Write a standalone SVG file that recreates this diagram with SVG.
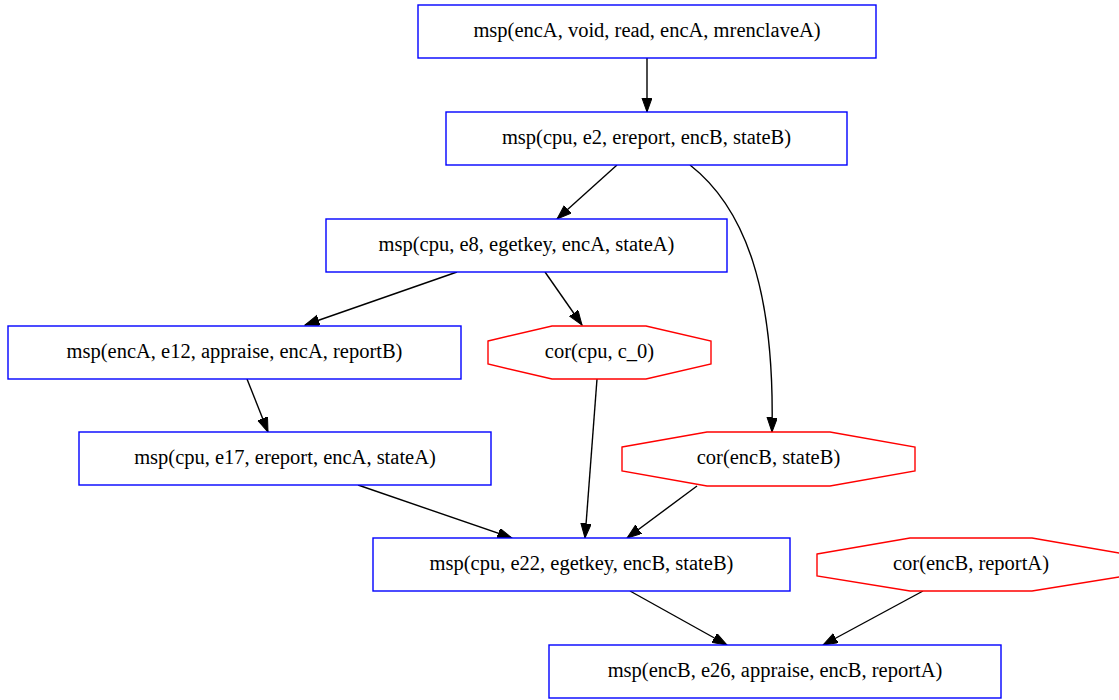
<svg xmlns="http://www.w3.org/2000/svg" width="1119" height="700" viewBox="0 0 1119 700">
  <style>
    .msp { fill: #ffffff; stroke: #0000ff; stroke-width: 1.4; }
    .cor { fill: #ffffff; stroke: #ff0000; stroke-width: 1.4; }
    .lbl { font-family: "Liberation Serif", "Times New Roman", serif; font-size: 20.5px; fill: #000000; text-anchor: middle; }
    .edge { fill: none; stroke: #000000; stroke-width: 1.4; marker-end: url(#arrow); }
  </style>
  <defs>
    <marker id="arrow" markerUnits="userSpaceOnUse" markerWidth="16" markerHeight="12" refX="14.5" refY="5.2" orient="auto">
      <path d="M0,0 L14.5,5.2 L0,10.4 Z" fill="#000000" stroke="#000000" stroke-width="1"/>
    </marker>
  </defs>
  <rect width="1119" height="700" fill="#ffffff"/>

  <g id="connectors">
    <path class="edge" d="M647,58 L647,112"/>
    <path class="edge" d="M617,165 L557,219"/>
    <path class="edge" d="M690,165 C745,208 775,290 772,432"/>
    <path class="edge" d="M457,272 L305,325"/>
    <path class="edge" d="M545,272 L582,325"/>
    <path class="edge" d="M247,379 L268,432"/>
    <path class="edge" d="M358,485 L512,538"/>
    <path class="edge" d="M597,379 L585,538"/>
    <path class="edge" d="M697,486 L627,538"/>
    <path class="edge" d="M630,591 L727,645"/>
    <path class="edge" d="M923,591 L823,645"/>
  </g>

  <g id="n_msp_encA_void">
    <rect class="msp" x="418" y="5" width="458" height="53"/>
    <text class="lbl" x="647" y="37">msp(encA, void, read, encA, mrenclaveA)</text>
  </g>
  <g id="n_msp_cpu_e2">
    <rect class="msp" x="446" y="112" width="401" height="53"/>
    <text class="lbl" x="646.5" y="144">msp(cpu, e2, ereport, encB, stateB)</text>
  </g>
  <g id="n_msp_cpu_e8">
    <rect class="msp" x="326" y="219" width="401" height="53"/>
    <text class="lbl" x="526.5" y="251">msp(cpu, e8, egetkey, encA, stateA)</text>
  </g>
  <g id="n_msp_encA_e12">
    <rect class="msp" x="8" y="326" width="453" height="53"/>
    <text class="lbl" x="234.5" y="357.5">msp(encA, e12, appraise, encA, reportB)</text>
  </g>
  <g id="n_cor_cpu_c0">
    <polygon class="cor" points="488,341 552,326 646,326 711,341 711,364 646,379 552,379 488,364"/>
    <text class="lbl" x="599.5" y="357.5">cor(cpu, c_0)</text>
  </g>
  <g id="n_msp_cpu_e17">
    <rect class="msp" x="79" y="432" width="412" height="53"/>
    <text class="lbl" x="285" y="464">msp(cpu, e17, ereport, encA, stateA)</text>
  </g>
  <g id="n_cor_encB_stateB">
    <polygon class="cor" points="622,447 707,432 830,432 915,447 915,471 830,486 707,486 622,471"/>
    <text class="lbl" x="768.5" y="464">cor(encB, stateB)</text>
  </g>
  <g id="n_msp_cpu_e22">
    <rect class="msp" x="373" y="538" width="417" height="53"/>
    <text class="lbl" x="581.5" y="570">msp(cpu, e22, egetkey, encB, stateB)</text>
  </g>
  <g id="n_cor_encB_reportA">
    <polygon class="cor" points="817,554 910,538 1032,538 1125,554 1125,576 1032,591 910,591 817,576"/>
    <text class="lbl" x="971" y="570">cor(encB, reportA)</text>
  </g>
  <g id="n_msp_encB_e26">
    <rect class="msp" x="549" y="645" width="452" height="53"/>
    <text class="lbl" x="775" y="677">msp(encB, e26, appraise, encB, reportA)</text>
  </g>
</svg>
